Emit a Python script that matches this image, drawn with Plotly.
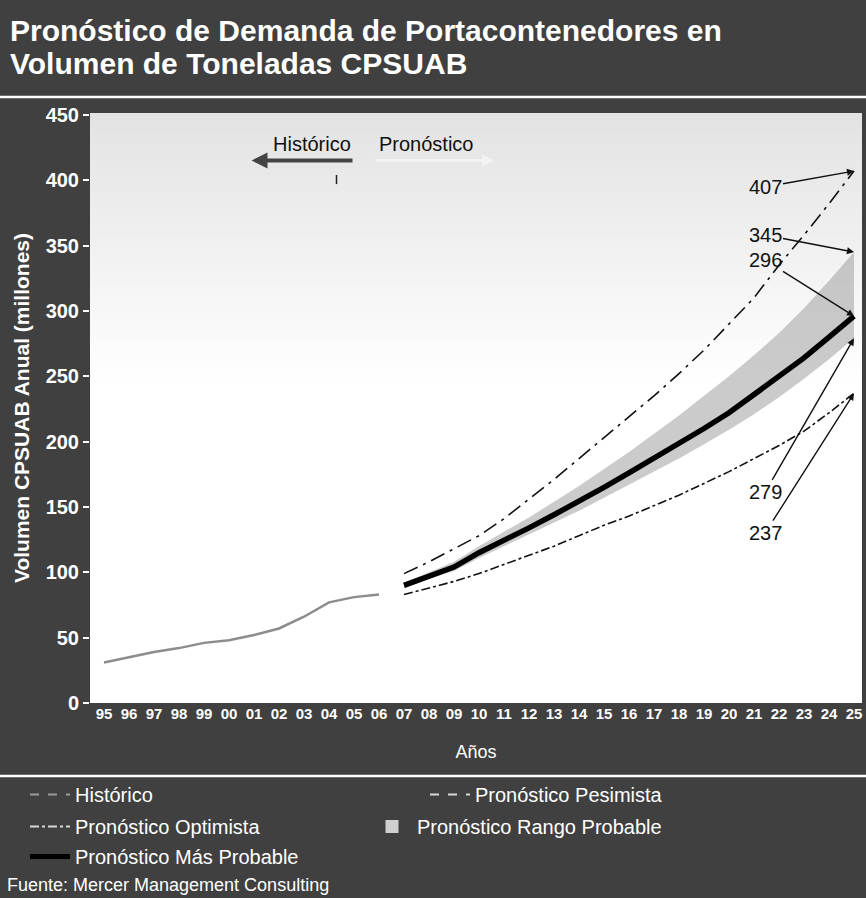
import plotly.graph_objects as go

# ---------------- data ----------------
hist_years = list(range(1995, 2007))
hist_vals = [31, 35, 39, 42, 46, 48, 52, 57, 66, 77, 81, 83]

fc_years = list(range(2007, 2026))
optimista = [99, 108, 118, 128, 141, 156, 171, 187, 203, 219, 235, 252, 270, 290, 310, 335, 358, 382, 407]
mas_probable = [90, 97, 104, 115, 124, 134, 144, 154, 165, 176, 187, 198, 210, 222, 236, 250, 264, 280, 296]
pesimista = [83, 88, 93, 99, 106, 113, 120, 128, 136, 143, 151, 159, 168, 177, 187, 197, 208, 222, 237]
rango_sup = [92, 100, 108, 120, 131, 142, 154, 166, 179, 192, 206, 220, 235, 250, 266, 283, 302, 323, 345]
rango_inf = [88, 95, 101, 111, 120, 129, 138, 147, 157, 167, 177, 187, 198, 209, 221, 234, 248, 263, 279]

tick_years = list(range(1995, 2026))
tick_text = [str(y)[-2:] for y in tick_years]
y_ticks = [0, 50, 100, 150, 200, 250, 300, 350, 400, 450]

end_labels = [("407", 407, -89, 16), ("345", 345, -89, -17), ("296", 296, -89, -56),
              ("279", 279, -89, 154), ("237", 237, -89, 140)]

FONT = "Liberation Sans"
WHITE = "#ffffff"
BG = "#404040"

# pixel helpers for paper coords (plot area: x 90..862, y 113..703)
def px(x):
    return (x - 90) / 772.0

def py(y):
    return (703 - y) / 590.0

fig = go.Figure()

# range band
fig.add_trace(go.Scatter(x=fc_years, y=rango_inf, mode="lines", line=dict(color="rgba(0,0,0,0)", width=0),
                         showlegend=False, hoverinfo="skip"))
fig.add_trace(go.Scatter(x=fc_years, y=rango_sup, mode="lines", line=dict(color="rgba(0,0,0,0)", width=0),
                         fill="tonexty", fillcolor="rgba(160,160,160,0.55)", showlegend=False,
                         name="Pronóstico Rango Probable"))
# historic
fig.add_trace(go.Scatter(x=hist_years, y=hist_vals, mode="lines", line=dict(color="#8c8c8c", width=2.5),
                         showlegend=False, name="Histórico"))
# optimistic / pessimistic
fig.add_trace(go.Scatter(x=fc_years, y=optimista, mode="lines",
                         line=dict(color="#111111", width=1.6, dash="longdashdot"),
                         showlegend=False, name="Pronóstico Optimista"))
fig.add_trace(go.Scatter(x=fc_years, y=pesimista, mode="lines",
                         line=dict(color="#111111", width=1.6, dash="dashdot"),
                         showlegend=False, name="Pronóstico Pesimista"))
# most probable
fig.add_trace(go.Scatter(x=fc_years, y=mas_probable, mode="lines", line=dict(color="#000000", width=5.5),
                         showlegend=False, name="Pronóstico Más Probable"))

# legend entries (as drawn on the dark legend panel), one legend per row
fig.add_trace(go.Scatter(x=[None], y=[None], mode="lines", name="Histórico", legend="legend",
                         line=dict(color="#9a9a9a", width=2, dash="dash")))
fig.add_trace(go.Scatter(x=[None], y=[None], mode="lines", name="Pronóstico Pesimista", legend="legend",
                         line=dict(color="#d8d8d8", width=2, dash="dash")))
fig.add_trace(go.Scatter(x=[None], y=[None], mode="lines", name="Pronóstico Optimista", legend="legend2",
                         line=dict(color="#d8d8d8", width=2, dash="dashdot")))
fig.add_trace(go.Scatter(x=[None], y=[None], mode="markers", name="Pronóstico Rango Probable",
                         legend="legend2", marker=dict(symbol="square", size=13, color="#d0d0d0")))
fig.add_trace(go.Scatter(x=[None], y=[None], mode="lines", name="Pronóstico Más Probable", legend="legend3",
                         line=dict(color="#000000", width=5)))

# top haze in plot area (soft gradient)
shapes = []
n = 28
for i in range(n):
    y0 = 1 - (i + 1) * 0.45 / n
    shapes.append(dict(type="rect", xref="paper", yref="paper", x0=0, x1=1, y0=y0, y1=1,
                       fillcolor="#8a8a8a", opacity=0.012, line=dict(width=0), layer="below"))
# white separator rules
shapes.append(dict(type="line", xref="paper", yref="paper", x0=px(0), x1=px(866),
                   y0=py(97), y1=py(97), line=dict(color=WHITE, width=2.5)))
shapes.append(dict(type="line", xref="paper", yref="paper", x0=px(0), x1=px(866),
                   y0=py(776), y1=py(776), line=dict(color=WHITE, width=2.5)))
# small divider tick under the Histórico/Pronóstico marker
shapes.append(dict(type="line", xref="x", yref="y", x0=2004.3, x1=2004.3, y0=397, y1=404,
                   line=dict(color="#222222", width=1.5)))

annotations = []
for txt, val, ax, ay in end_labels:
    annotations.append(dict(x=2025, y=val, xref="x", yref="y", text=txt, showarrow=True,
                            ax=ax, ay=ay, arrowhead=2, arrowsize=1, arrowwidth=1.4, arrowcolor="#111111",
                            font=dict(family=FONT, size=20, color="#111111")))
# Histórico / Pronóstico marker
annotations.append(dict(x=2003.3, y=427.5, xref="x", yref="y", text="Histórico", showarrow=False,
                        font=dict(family=FONT, size=20, color="#111111")))
annotations.append(dict(x=2007.9, y=427.5, xref="x", yref="y", text="Pronóstico", showarrow=False,
                        font=dict(family=FONT, size=20, color="#111111")))
annotations.append(dict(x=2000.9, y=415, xref="x", yref="y", ax=2005.0, ay=415, axref="x", ayref="y",
                        text="", showarrow=True, arrowhead=2, arrowsize=0.8, arrowwidth=4,
                        arrowcolor="#444444"))
annotations.append(dict(x=2010.6, y=415, xref="x", yref="y", ax=2005.8, ay=415, axref="x", ayref="y",
                        text="", showarrow=True, arrowhead=2, arrowsize=0.8, arrowwidth=3,
                        arrowcolor="#f2f2f2"))
# title (two lines)
annotations.append(dict(x=px(8), y=py(30), xref="paper", yref="paper", xanchor="left", yanchor="middle",
                        text="Pronóstico de Demanda de Portacontenedores en", showarrow=False,
                        font=dict(family=FONT, size=30, color=WHITE, weight="bold")))
annotations.append(dict(x=px(8), y=py(63), xref="paper", yref="paper", xanchor="left", yanchor="middle",
                        text="Volumen de Toneladas CPSUAB", showarrow=False,
                        font=dict(family=FONT, size=30, color=WHITE, weight="bold")))
# source
annotations.append(dict(x=px(5), y=py(885), xref="paper", yref="paper", xanchor="left",
                        yanchor="middle", text="Fuente: Mercer Management Consulting", showarrow=False,
                        font=dict(family=FONT, size=18, color=WHITE)))

legend_common = dict(orientation="h", xanchor="left", yanchor="top", entrywidthmode="pixels",
                     bgcolor="rgba(0,0,0,0)", itemwidth=40, traceorder="normal",
                     font=dict(family=FONT, size=20, color=WHITE))

fig.update_layout(
    width=866, height=898,
    margin=dict(l=90, r=4, t=113, b=195),
    paper_bgcolor=BG, plot_bgcolor="#ffffff",
    xaxis=dict(range=[1994.44, 2025.32], tickvals=tick_years, ticktext=tick_text, showgrid=False,
               zeroline=False, showline=False, ticks="",
               tickfont=dict(family=FONT, size=15, color=WHITE, weight="bold"),
               title=dict(text="Años", standoff=24, font=dict(family=FONT, size=18, color=WHITE))),
    yaxis=dict(range=[0, 451.4], tickvals=y_ticks, showgrid=False,
               zeroline=False, showline=False, ticks="outside", ticklen=6, tickcolor=WHITE, tickwidth=2,
               tickfont=dict(family=FONT, size=20, color=WHITE, weight="bold"),
               title=dict(text="Volumen CPSUAB Anual (millones)", standoff=10,
                          font=dict(family=FONT, size=21, color=WHITE, weight="bold"))),
    legend=dict(x=px(25), y=py(775), entrywidth=345, **legend_common),
    legend2=dict(x=px(25), y=py(807), entrywidth=287, **legend_common),
    legend3=dict(x=px(25), y=py(837), entrywidth=334, **legend_common),
    shapes=shapes, annotations=annotations,
)

fig.write_html("out.html", config={"displayModeBar": False},
               post_script="document.body.style.margin='0';document.body.style.background='#404040';")
